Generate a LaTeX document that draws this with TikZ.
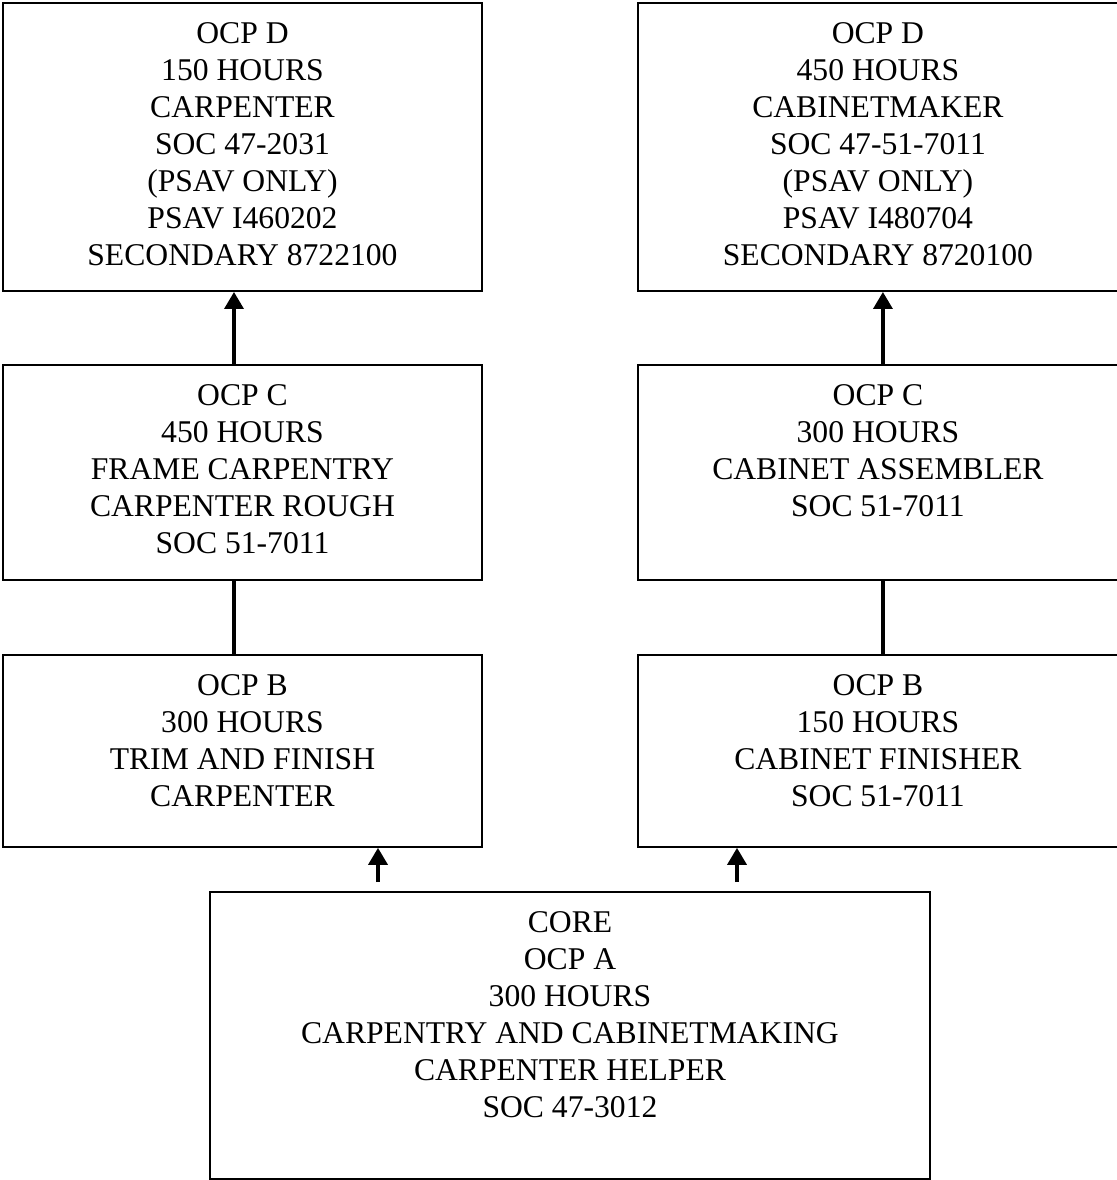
\documentclass[tikz,border=0pt]{standalone}
\usepackage{fontspec}
\setmainfont{Liberation Serif}
\usetikzlibrary{positioning,arrows.meta}

\tikzset{
    ocp/.style={draw, line width=1.1pt, inner sep=0pt,
        font=\fontsize{18}{21}\selectfont},
    up/.style={-{Triangle[length=0.34cm,width=0.38cm]}, line width=2pt},
    link/.style={line width=2pt}
}
\newcommand{\ocpbody}[3]{\parbox[c][#2][t]{#1}{\centering\vspace*{0.4cm}#3}}

\begin{document}
\begin{tikzpicture}
                \useasboundingbox (0,0) rectangle (22.34,-23.6);
                \node[ocp] (lD) at (4.85,-2.94)
                    {\ocpbody{9.58cm}{5.76cm}{OCP D\\150 HOURS\\CARPENTER\\SOC 47-2031\\(PSAV ONLY)\\PSAV I460202\\SECONDARY 8722100}};
                \node[ocp, below=1.44cm of lD] (lC)
                    {\ocpbody{9.58cm}{4.3cm}{OCP C\\450 HOURS\\FRAME CARPENTRY\\CARPENTER ROUGH\\SOC 51-7011}};
                \node[ocp, below=1.46cm of lC] (lB)
                    {\ocpbody{9.58cm}{3.84cm}{OCP B\\300 HOURS\\TRIM AND FINISH\\CARPENTER}};
                \node[ocp, right=3.08cm of lD] (rD)
                    {\ocpbody{9.6cm}{5.76cm}{OCP D\\450 HOURS\\CABINETMAKER\\SOC 47-51-7011\\(PSAV ONLY)\\PSAV I480704\\SECONDARY 8720100}};
                \node[ocp, below=1.44cm of rD] (rC)
                    {\ocpbody{9.6cm}{4.3cm}{OCP C\\300 HOURS\\CABINET ASSEMBLER\\SOC 51-7011}};
                \node[ocp, below=1.46cm of rC] (rB)
                    {\ocpbody{9.6cm}{3.84cm}{OCP B\\150 HOURS\\CABINET FINISHER\\SOC 51-7011}};
                \node[ocp] (core) at (11.4,-20.71)
                    {\ocpbody{14.4cm}{5.74cm}{CORE\\OCP A\\300 HOURS\\CARPENTRY AND CABINETMAKING\\CARPENTER HELPER\\SOC 47-3012}};
                \coordinate (a1) at ([xshift=-3.84cm,yshift=0.18cm]core.north);
                \coordinate (a2) at ([xshift=3.34cm,yshift=0.18cm]core.north);
                \draw[up] ([xshift=-0.17cm]lC.north) -- ([xshift=-0.17cm]lD.south);
                \draw[up] ([xshift=0.1cm]rC.north) -- ([xshift=0.1cm]rD.south);
                \draw[link] ([xshift=-0.17cm]lB.north) -- ([xshift=-0.17cm]lC.south);
                \draw[link] ([xshift=0.1cm]rB.north) -- ([xshift=0.1cm]rC.south);
                \draw[up] (a1) -- (a1 |- lB.south);
                \draw[up] (a2) -- (a2 |- rB.south);
            \end{tikzpicture}
\end{document}
